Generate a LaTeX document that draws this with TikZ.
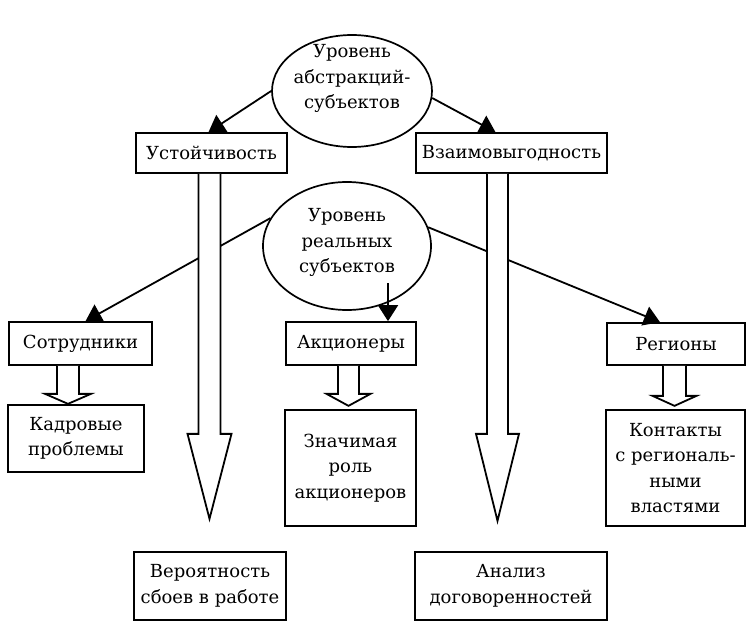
\documentclass[tikz,border=0pt]{standalone}
\usepackage{fontspec}
\setmainfont{DejaVu Serif}
\usetikzlibrary{arrows.meta,calc,shapes.geometric}
\tikzset{main base/.style={draw,line width=1.7pt,text centered, }, }
\tikzset{main node/.style={rectangle,main base,inner sep=0pt,align=center}, }
\tikzset{main level/.style={ellipse,main base,inner sep=0pt}, }
\tikzset{main text/.style={align=center,inner sep=0pt}, }
\tikzset{linea/.style={-{Triangle[length=16pt,width=20pt]},line width=1.8pt,draw}}
\tikzset{wide arrow/.style={draw,fill=white,line width=1.8pt,line join=miter}}
% start, half shaft, half head, shaft length, full length
\newcommand{\widearrow}[5]{%
  \draw[wide arrow] ($(#1)+(-#2,0)$) -- ($(#1)+(-#2,#4)$) -- ($(#1)+(-#3,#4)$)
    -- ($(#1)+(0,#5)$) -- ($(#1)+(#3,#4)$) -- ($(#1)+(#2,#4)$) -- ($(#1)+(#2,0)$);}

\begin{document}
\begin{tikzpicture}[x=1pt,y=-1pt,font=\fontsize{18}{25.5}\selectfont]
  \useasboundingbox (0,0) rectangle (747,621);
  % levels
  \node[main level,minimum width=160,minimum height=112] (e1) at (352,91) {};
  \node[main text,yshift=12.5pt] (e1t) at (e1.center) {Уровень\\абстракций-\\субъектов};
  \node[main level,minimum width=168,minimum height=128] (e2) at (347,246) {};
  \node[main text,yshift=3.5pt] (e2t) at (e2.center) {Уровень\\реальных\\субъектов};
  % boxes
  \node[main node,minimum width=151,minimum height=40] (ust) at (211.5,153) {Устойчивость};
  \node[main node,minimum width=191,minimum height=40] (vzaim) at (511.5,153) {Взаимовыгодность};
  \node[main node,minimum width=143,minimum height=43] (sotr) at (80.5,343.5) {Сотрудники};
  \node[main node,minimum width=130,minimum height=43] (akc) at (351,343.5) {Акционеры};
  \node[main node,minimum width=138,minimum height=42] (reg) at (676,344) {Регионы};
  \node[main node,minimum width=136,minimum height=67] (kadr) at (76,438.5) {Кадровые\\проблемы};
  \node[main node,minimum width=131,minimum height=116] (znach) at (350.5,468) {Значимая\\роль\\акционеров};
  \node[main node,minimum width=139,minimum height=116] (kont) at (675.5,468) {Контакты\\с региональ-\\ными\\властями};
  \node[main node,minimum width=152,minimum height=68] (ver) at (210,586) {Вероятность\\сбоев в работе};
  \node[main node,minimum width=192,minimum height=68] (anal) at (511,586) {Анализ\\договоренностей};
  % links
  \draw[linea] (e1.west) -- ($(ust.north)+(-3,0)$);
  \draw[linea] (e1.-5) -- ($(vzaim.north)+(-16,0)$);
  \draw[linea] (e2.160) -- ($(sotr.north)+(5,0)$);
  \draw[linea] (e2.13) -- ($(reg.north)+(-16,0)$);
  \draw[linea] ($(e2.center)+(41,37)$) -- ($(akc.north)+(37,0)$);
  % wide arrows
  \coordinate (ustarr) at ($(ust.south)+(-2,0)$);
  \coordinate (vzaimarr) at ($(vzaim.south)+(-14,0)$);
  \coordinate (sotrarr) at ($(sotr.south)+(-12.5,0)$);
  \coordinate (akcarr) at ($(akc.south)+(-2.5,0)$);
  \coordinate (regarr) at ($(reg.south)+(-1.5,0)$);
  \widearrow{ustarr}{11}{22}{260}{345}
  \widearrow{vzaimarr}{10.5}{21.5}{260}{347}
  \widearrow{sotrarr}{11}{23}{28}{38}
  \widearrow{akcarr}{10.5}{22}{28}{40}
  \widearrow{regarr}{11.5}{22}{30}{40}
\end{tikzpicture}
\end{document}
